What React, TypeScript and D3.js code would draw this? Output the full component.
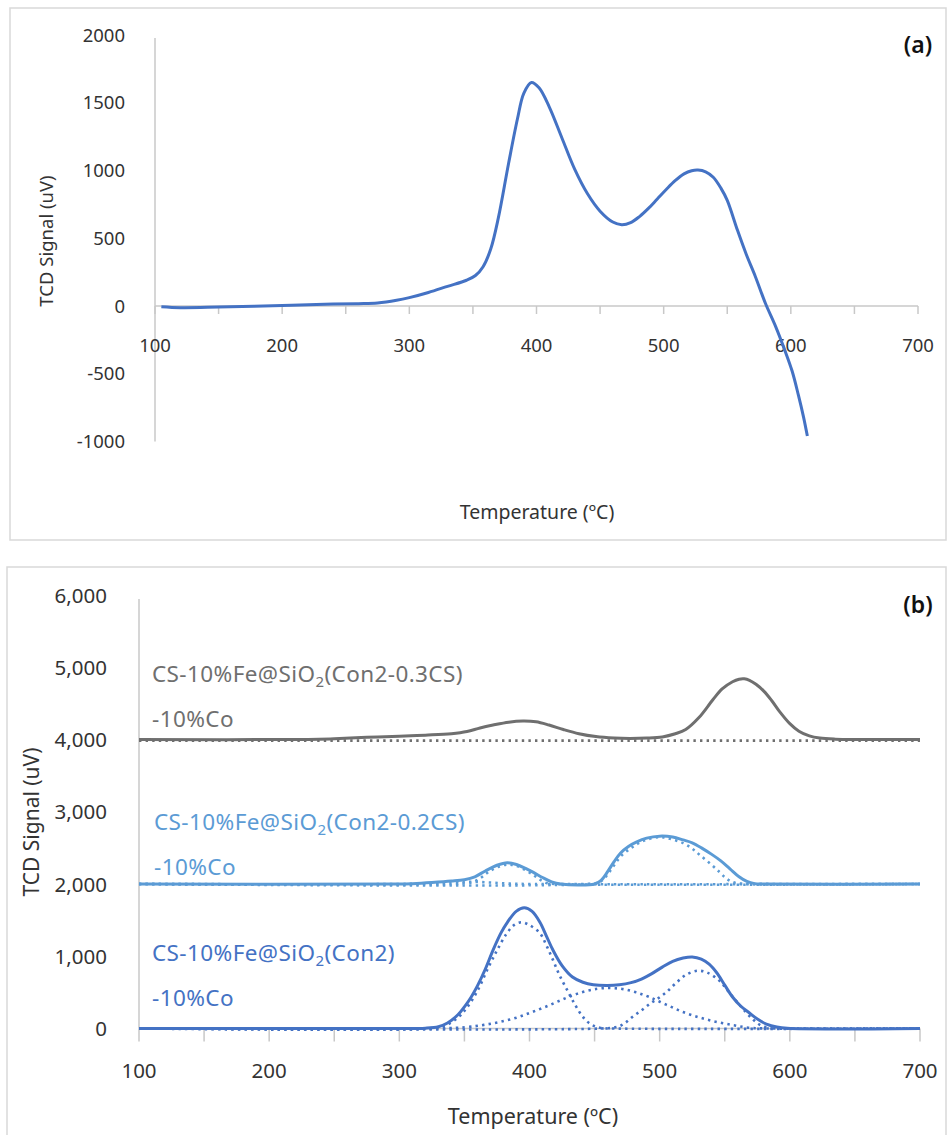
import React from "react";
import * as d3 from "d3";

// ---- panel (a): TPR profile ----
const aTemp = [105, 120, 150, 200, 240, 260, 275, 290, 300, 315, 330, 345, 352, 358, 364, 370, 378, 385, 390, 396, 402, 410, 420, 430, 440, 450, 460, 467, 474, 481, 488, 495, 502, 509, 516, 522, 527, 533, 539, 545, 550, 558, 565, 572, 580, 588, 595, 601, 606, 610, 613];
const aSignal = [-5, -12, -8, 3, 14, 17, 22, 42, 62, 100, 145, 190, 225, 290, 420, 650, 1050, 1380, 1570, 1650, 1610, 1470, 1240, 1010, 830, 700, 620, 600, 615, 660, 720, 790, 860, 925, 975, 998, 1003, 990, 950, 870, 780, 560, 380, 220, 20, -150, -320, -480, -660, -820, -960];

const aXTicks = [100, 200, 300, 400, 500, 600, 700];
const aYTicks = [-1000, -500, 0, 500, 1000, 1500, 2000];

// ---- panel (b): deconvoluted profiles ----
const bXTicks = [100, 200, 300, 400, 500, 600, 700];
const bYTicks = [0, 1000, 2000, 3000, 4000, 5000, 6000];

// CS-10%Fe@SiO2(Con2)-10%Co
const con2Temp = [100, 300, 320, 330, 337, 345, 350, 355, 360, 366, 372, 378, 383, 390, 396, 402, 408, 413, 418, 425, 433, 441, 449, 460, 469, 478, 486, 494, 502, 510, 518, 525, 532, 538, 544, 550, 556, 562, 569, 576, 582, 590, 598, 700];
const con2Signal = [0, 0, 5, 25, 76, 190, 300, 430, 590, 820, 1086, 1320, 1470, 1625, 1670, 1620, 1470, 1280, 1086, 870, 712, 640, 605, 595, 605, 635, 685, 760, 850, 930, 975, 990, 960, 890, 768, 600, 436, 315, 214, 120, 62, 20, 2, 0];
const con2P1Temp = [100, 320, 335, 345, 352, 360, 368, 375, 382, 388, 394, 400, 408, 413, 418, 423, 429, 435, 441, 447, 454, 465, 700];
const con2P1 = [0, 0, 40, 150, 290, 520, 830, 1080, 1300, 1430, 1470, 1430, 1320, 1150, 950, 740, 530, 330, 160, 60, 10, 0, 0];
const con2P2Temp = [100, 330, 352, 365, 377, 390, 402, 415, 428, 440, 452, 462, 472, 482, 492, 505, 518, 531, 544, 557, 569, 585, 700];
const con2P2 = [0, 0, 20, 50, 90, 150, 228, 320, 422, 500, 550, 560, 545, 500, 436, 330, 228, 150, 90, 45, 10, 0, 0];
const con2P3Temp = [100, 455, 467, 473, 479, 486, 493, 499, 505, 512, 520, 529, 537, 546, 552, 558, 565, 572, 578, 585, 595, 700];
const con2P3 = [0, 0, 20, 70, 160, 250, 350, 420, 500, 620, 740, 800, 770, 660, 530, 400, 250, 120, 40, 5, 0, 0];

// CS-10%Fe@SiO2(Con2-0.2CS)-10%Co
const cs02Temp = [100, 300, 310, 325, 340, 350, 358, 366, 375, 383, 390, 397, 403, 410, 417, 424, 450, 455, 460, 465, 470, 476, 482, 490, 500, 510, 518, 525, 533, 540, 547, 554, 561, 567, 573, 580, 700];
const cs02Signal = [2000, 2000, 2005, 2020, 2040, 2060, 2100, 2180, 2260, 2295, 2270, 2215, 2160, 2090, 2030, 2000, 2000, 2050, 2170, 2310, 2430, 2520, 2580, 2635, 2662, 2650, 2610, 2570, 2490, 2410, 2320, 2210, 2100, 2035, 2005, 2000, 2000];
const cs02P1Temp = [100, 340, 350, 357, 363, 368, 375, 383, 390, 397, 403, 408, 413, 420, 700];
const cs02P1 = [2000, 2000, 2010, 2030, 2090, 2160, 2230, 2270, 2250, 2190, 2124, 2060, 2014, 2000, 2000];
const cs02P2Temp = [100, 445, 454, 459, 464, 470, 479, 488, 500, 509, 518, 525, 531, 539, 546, 551, 556, 562, 568, 700];
const cs02P2 = [2000, 2000, 2027, 2110, 2234, 2380, 2510, 2600, 2650, 2620, 2565, 2490, 2400, 2280, 2165, 2080, 2027, 2005, 2000, 2000];
const cs02P3Temp = [100, 300, 320, 340, 355, 370, 385, 400, 700];
const cs02P3 = [2000, 2000, 2010, 2025, 2030, 2020, 2005, 2000, 2000];

// CS-10%Fe@SiO2(Con2-0.3CS)-10%Co
const cs03Temp = [100, 230, 250, 275, 300, 320, 340, 352, 362, 372, 384, 395, 405, 415, 426, 438, 451, 465, 477, 490, 502, 512, 520, 530, 541, 548, 556, 561, 565, 569, 574, 580, 586, 592, 600, 607, 615, 623, 635, 650, 700];
const cs03Signal = [4000, 4000, 4010, 4030, 4045, 4060, 4080, 4110, 4160, 4200, 4240, 4255, 4245, 4200, 4138, 4080, 4040, 4020, 4015, 4020, 4036, 4080, 4138, 4300, 4553, 4700, 4800, 4835, 4840, 4820, 4765, 4670, 4540, 4390, 4220, 4115, 4050, 4020, 4005, 4000, 4000];
const cs03BaseTemp = [100, 700];
const cs03Base = [3985, 3985];

const GRAY = "#6f6f6f";
const LIGHT = "#5b9bd5";
const DARK = "#4472c4";
const AXIS = "#c8c8c8";
const TXT = "#333333";
const FONT = "'Noto Sans', sans-serif";

type Sc = d3.ScaleLinear<number, number>;

function path(sx: Sc, sy: Sc, t: number[], v: number[]) {
  const line = d3
    .line<number>()
    .x((_, i) => sx(t[i]))
    .y((d) => sy(d))
    .curve(d3.curveCatmullRom.alpha(0.5));
  return line(v) || "";
}

const Label: React.FC<{ x: number; y: number; color: string; tail: string }> = ({ x, y, color, tail }) => (
  <g fill={color} fontFamily={FONT} fontSize={22.5} letterSpacing={0.4}>
    <text x={x} y={y}>
      CS-10%Fe@SiO
      <tspan fontSize={15} dy={5}>2</tspan>
      <tspan dy={-5}>{tail}</tspan>
    </text>
    <text x={x} y={y + 45}>-10%Co</text>
  </g>
);

export default function App() {
  const ax = d3.scaleLinear().domain([100, 700]).range([155, 918]);
  const ay = d3.scaleLinear().domain([-1000, 2000]).range([441.5, 35]);
  const bx = d3.scaleLinear().domain([100, 700]).range([139, 920]);
  const by = d3.scaleLinear().domain([0, 6000]).range([1028.5, 595]);
  const minor = d3.range(100, 701, 50);
  const fmt = d3.format(",");

  const dotted = { fill: "none", strokeWidth: 2.6, strokeDasharray: "2.4 4.2" };

  return (
    <svg width={948} height={1135} style={{ position: "absolute", left: 0, top: 0, background: "#fff" }}>
      {/* ---------- panel (a) ---------- */}
      <rect x={10} y={8} width={936} height={532} fill="#fff" stroke="#d9d9d9" strokeWidth={1.5} />
      <line x1={ax(100)} x2={ax(100)} y1={38} y2={ay(-1000)} stroke={AXIS} strokeWidth={1.5} />
      <line x1={ax(100)} x2={ax(700)} y1={ay(0)} y2={ay(0)} stroke={AXIS} strokeWidth={1.5} />
      {minor.map((t) => (
        <line key={"am" + t} x1={ax(t)} x2={ax(t)} y1={ay(0)} y2={ay(0) + 8} stroke={AXIS} strokeWidth={1.5} />
      ))}
      {aXTicks.map((t) => (
        <text key={"ax" + t} x={ax(t)} y={352} textAnchor="middle" fontFamily={FONT} fontSize={18.5} fill={TXT}>
          {t}
        </text>
      ))}
      {aYTicks.map((v) => (
        <text key={"ay" + v} x={125} y={ay(v) + 6.7} textAnchor="end" fontFamily={FONT} fontSize={18.5} fill={TXT}>
          {v}
        </text>
      ))}
      <text transform="translate(53,241) rotate(-90)" textAnchor="middle" fontFamily={FONT} fontSize={18.5} fill={TXT}>
        TCD Signal (uV)
      </text>
      <text x={537} y={519} textAnchor="middle" fontFamily={FONT} fontSize={19.5} fill={TXT}>
        Temperature (ºC)
      </text>
      <text x={918} y={53} textAnchor="middle" fontFamily={FONT} fontSize={23} fontWeight={600} fill="#111">
        (a)
      </text>
      <path d={path(ax, ay, aTemp, aSignal)} fill="none" stroke={DARK} strokeWidth={3} />

      {/* ---------- panel (b) ---------- */}
      <rect x={7} y={567} width={939} height={580} fill="#fff" stroke="#d9d9d9" strokeWidth={1.5} />
      <line x1={bx(100)} x2={bx(100)} y1={599} y2={by(0)} stroke={AXIS} strokeWidth={1.5} />
      <line x1={bx(100)} x2={bx(700)} y1={by(0)} y2={by(0)} stroke={AXIS} strokeWidth={1.5} />
      {minor.map((t) => (
        <line key={"bm" + t} x1={bx(t)} x2={bx(t)} y1={by(0)} y2={by(0) + 13} stroke={AXIS} strokeWidth={1.5} />
      ))}
      {bXTicks.map((t) => (
        <text key={"bx" + t} x={bx(t)} y={1078} textAnchor="middle" fontFamily={FONT} fontSize={20.5} fill={TXT}>
          {t}
        </text>
      ))}
      {bYTicks.map((v) => (
        <text key={"by" + v} x={107} y={by(v) + 7.5} textAnchor="end" fontFamily={FONT} fontSize={20.5} fill={TXT}>
          {fmt(v)}
        </text>
      ))}
      <text transform="translate(39,822) rotate(-90)" textAnchor="middle" fontFamily={FONT} fontSize={21} fill={TXT}>
        TCD Signal (uV)
      </text>
      <text x={533} y={1124} textAnchor="middle" fontFamily={FONT} fontSize={21.5} fill={TXT}>
        Temperature (ºC)
      </text>
      <text x={918} y={613} textAnchor="middle" fontFamily={FONT} fontSize={23} fontWeight={600} fill="#111">
        (b)
      </text>

      {/* 0.3CS */}
      <path d={path(bx, by, cs03BaseTemp, cs03Base)} stroke={GRAY} {...dotted} />
      <path d={path(bx, by, cs03Temp, cs03Signal)} fill="none" stroke={GRAY} strokeWidth={3} />

      {/* 0.2CS */}
      <path d={path(bx, by, cs02P3Temp, cs02P3)} stroke={LIGHT} {...dotted} />
      <path d={path(bx, by, cs02P1Temp, cs02P1)} stroke={LIGHT} {...dotted} />
      <path d={path(bx, by, cs02P2Temp, cs02P2)} stroke={LIGHT} {...dotted} />
      <path d={path(bx, by, cs02Temp, cs02Signal)} fill="none" stroke={LIGHT} strokeWidth={3} />

      {/* Con2 */}
      <path d={path(bx, by, con2P1Temp, con2P1)} stroke={DARK} {...dotted} />
      <path d={path(bx, by, con2P2Temp, con2P2)} stroke={DARK} {...dotted} />
      <path d={path(bx, by, con2P3Temp, con2P3)} stroke={DARK} {...dotted} />
      <path d={path(bx, by, con2Temp, con2Signal)} fill="none" stroke={DARK} strokeWidth={3} />

      <Label x={152} y={682} color={GRAY} tail="(Con2-0.3CS)" />
      <Label x={154} y={830} color={LIGHT} tail="(Con2-0.2CS)" />
      <Label x={152} y={961} color={DARK} tail="(Con2)" />
    </svg>
  );
}
